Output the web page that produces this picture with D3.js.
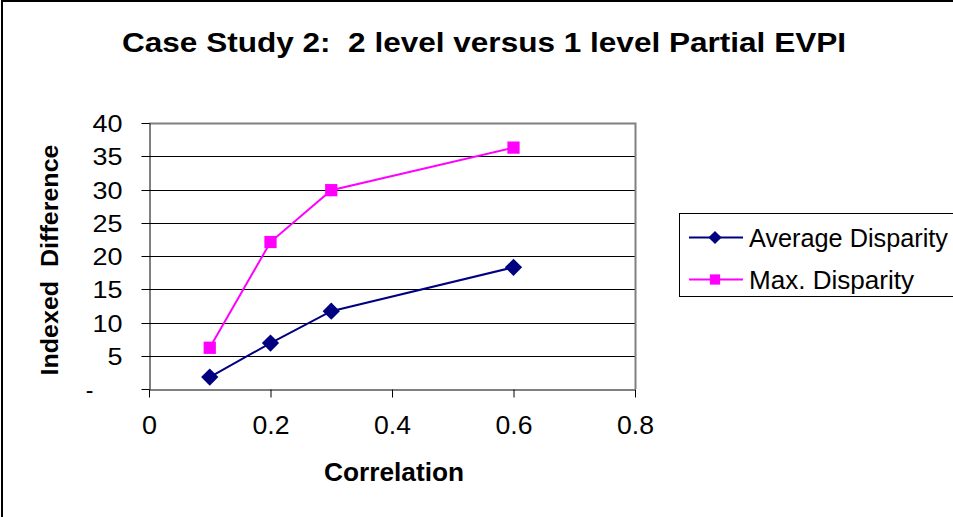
<!DOCTYPE html>
<html>
<head>
<meta charset="utf-8">
<script src="https://cdn.jsdelivr.net/npm/d3@7"></script>
<style>
  body { margin: 0; background: #fff; }
  svg { display: block; font-family: Arial, "Liberation Sans", sans-serif; }
</style>
</head>
<body>
<div id="chart"></div>
<script>
// data
var correlation = [0.1, 0.2, 0.3, 0.6];
var avgDisparity = [1.8, 6.9, 11.7, 18.3];
var maxDisparity = [6.2, 22.1, 29.9, 36.3];
var seriesNames = ['Average Disparity', 'Max. Disparity'];
var xTicks = [0, 0.2, 0.4, 0.6, 0.8];
var yTicks = [0, 5, 10, 15, 20, 25, 30, 35, 40];

var width = 953,
	height = 517;
var plot = {
	left: 149,
	right: 635,
	top: 123,
	bottom: 389
};

var svg = d3.select('#chart').append('svg')
	.attr('width', width)
	.attr('height', height);

// outer frame (runs off the right and bottom edge like the original)
svg.append('rect')
	.attr('x', 2).attr('y', 1)
	.attr('width', width + 10).attr('height', height + 10)
	.attr('fill', 'none')
	.attr('stroke', '#000')
	.attr('stroke-width', 2);

// the original picture is a bit stretched sideways, so texts get a textLength
svg.append('text')
	.attr('x', 484)
	.attr('y', 52)
	.attr('text-anchor', 'middle')
	.attr('textLength', 724)
	.attr('lengthAdjust', 'spacingAndGlyphs')
	.style('font-size', '27px')
	.style('font-weight', 'bold')
	.attr('xml:space', 'preserve')
	.text('Case Study 2:  2 level versus 1 level Partial EVPI');

var xScale = d3.scaleLinear()
	.domain([0, 0.8])
	.range([plot.left, plot.right]);
var yScale = d3.scaleLinear()
	.domain([0, 40])
	.range([plot.bottom, plot.top]);

// gridlines
svg.append('g')
	.selectAll('line')
	.data(yTicks.filter(d => d > 0 && d < 40))
	.enter()
	.append('line')
	.attr('x1', plot.left).attr('x2', plot.right)
	.attr('y1', d => Math.round(yScale(d)) + 0.5)
	.attr('y2', d => Math.round(yScale(d)) + 0.5)
	.attr('stroke', '#000')
	.attr('stroke-width', 1);

// plot border top / right
svg.append('path')
	.attr('d', 'M' + plot.left + ',' + (plot.top + 0.5) + 'H' + (plot.right + 0.5) + 'V' + plot.bottom)
	.attr('fill', 'none')
	.attr('stroke', '#808080')
	.attr('stroke-width', 2);

// axes
var yAxis = svg.append('g')
	.attr('transform', 'translate(' + (plot.left + 0.5) + ',0)')
	.call(d3.axisLeft(yScale).tickValues(yTicks).tickSize(8).tickSizeOuter(0)
		.tickFormat(d => d == 0 ? '-' : d));
yAxis.select('.domain').attr('stroke', '#000');
yAxis.selectAll('.tick line').attr('stroke', '#000');
yAxis.selectAll('.tick text')
	.attr('x', d => d == 0 ? -56 : -27)
	.attr('dy', '0.35em')
	.attr('textLength', d => d == 0 ? null : (d < 10 ? 15 : 30))
	.attr('lengthAdjust', 'spacingAndGlyphs')
	.style('font-size', '23px')
	.style('font-family', 'Arial, "Liberation Sans", sans-serif')
	.attr('fill', '#000');
yAxis.selectAll('.tick')
	.attr('transform', d => 'translate(0,' + (Math.round(yScale(d)) + 0.5) + ')');

var xAxis = svg.append('g')
	.attr('transform', 'translate(0,' + (plot.bottom + 0.5) + ')')
	.call(d3.axisBottom(xScale).tickValues(xTicks).tickSize(8).tickSizeOuter(0)
		.tickFormat(d => d == 0 ? '0' : d3.format('.1f')(d)));
xAxis.select('.domain').attr('stroke', '#000');
xAxis.selectAll('.tick line').attr('stroke', '#000');
xAxis.selectAll('.tick text')
	.attr('y', 27)
	.attr('dy', '0.71em')
	.attr('textLength', d => d == 0 ? 15 : 37)
	.attr('lengthAdjust', 'spacingAndGlyphs')
	.style('font-size', '25px')
	.style('font-family', 'Arial, "Liberation Sans", sans-serif')
	.attr('fill', '#000');

svg.append('text')
	.attr('x', 394)
	.attr('y', 481)
	.attr('text-anchor', 'middle')
	.attr('textLength', 140)
	.attr('lengthAdjust', 'spacingAndGlyphs')
	.style('font-size', '25px')
	.style('font-weight', 'bold')
	.text('Correlation');

svg.append('text')
	.attr('transform', 'translate(58,260) rotate(-90)')
	.attr('text-anchor', 'middle')
	.attr('textLength', 231)
	.attr('lengthAdjust', 'spacingAndGlyphs')
	.style('font-size', '24px')
	.style('font-weight', 'bold')
	.attr('xml:space', 'preserve')
	.text('Indexed  Difference');

// series
var series = [
	{ name: seriesNames[0], values: avgDisparity, color: '#000080', symbol: d3.symbolDiamond2, size: 190, legendSize: 110 },
	{ name: seriesNames[1], values: maxDisparity, color: '#FF00FF', symbol: d3.symbolSquare, size: 150, legendSize: 105 }
];

var line = d3.line()
	.x(d => xScale(d[0]))
	.y(d => yScale(d[1]));

series.forEach(s => {
	let pts = correlation.map((c, i) => [c, s.values[i]]);
	svg.append('path')
		.attr('d', line(pts))
		.attr('fill', 'none')
		.attr('stroke', s.color)
		.attr('stroke-width', 2);
	svg.append('g')
		.selectAll('path')
		.data(pts)
		.enter()
		.append('path')
		.attr('transform', d => 'translate(' + xScale(d[0]) + ',' + yScale(d[1]) + ')')
		.attr('d', d3.symbol().type(s.symbol).size(s.size))
		.attr('fill', s.color);
});

// legend
var legend = svg.append('g');
legend.append('rect')
	.attr('x', 679.5).attr('y', 213.5)
	.attr('width', 300).attr('height', 83)
	.attr('fill', '#fff')
	.attr('stroke', '#000')
	.attr('stroke-width', 1);
series.forEach((s, i) => {
	let ly = 237.5 + i * 42;
	legend.append('line')
		.attr('x1', 689).attr('x2', 743)
		.attr('y1', ly).attr('y2', ly)
		.attr('stroke', s.color)
		.attr('stroke-width', 2);
	legend.append('path')
		.attr('transform', 'translate(715,' + ly + ')')
		.attr('d', d3.symbol().type(s.symbol).size(s.legendSize))
		.attr('fill', s.color);
	legend.append('text')
		.attr('x', 749)
		.attr('y', ly + 9)
		.attr('textLength', 199)
		.attr('lengthAdjust', 'spacingAndGlyphs')
		.style('font-size', '25px')
		.text(s.name)
		.attr('textLength', i == 0 ? 199 : 165);
});
</script>
</body>
</html>
